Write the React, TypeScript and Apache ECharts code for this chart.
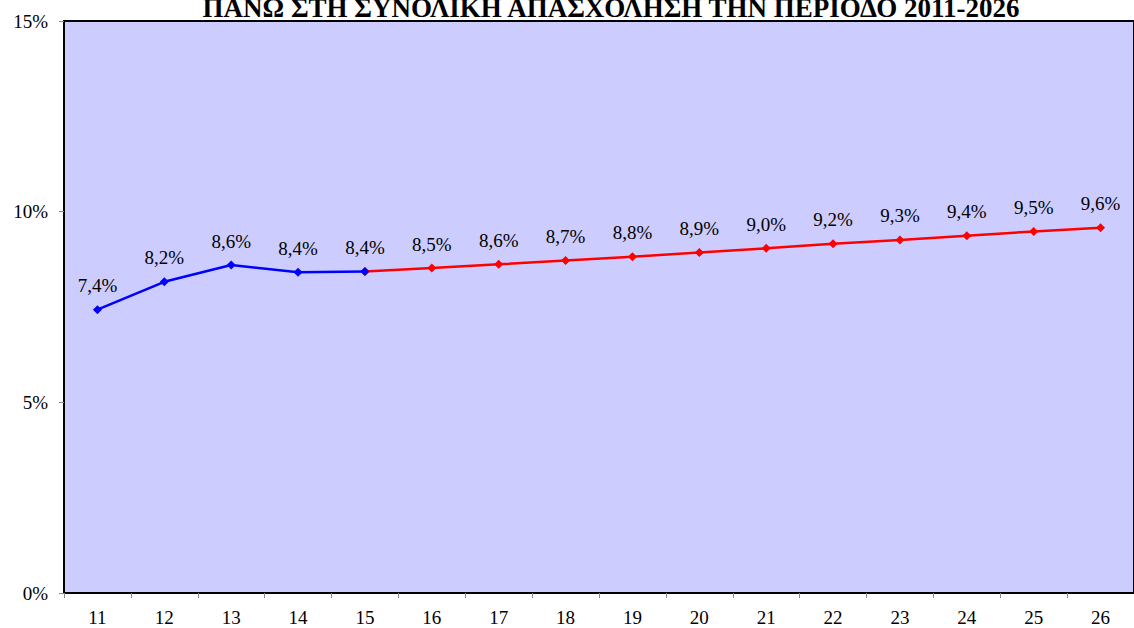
import React, { useEffect, useRef } from "react";
import * as echarts from "echarts";

const title = "ΠΑΝΩ ΣΤΗ ΣΥΝΟΛΙΚΗ ΑΠΑΣΧΟΛΗΣΗ ΤΗΝ ΠΕΡΙΟΔΟ 2011-2026";
const categories = ["11", "12", "13", "14", "15", "16", "17", "18", "19", "20", "21", "22", "23", "24", "25", "26"];
const actual = [7.43, 8.16, 8.6, 8.41, 8.43, null, null, null, null, null, null, null, null, null, null, null];
const forecast = [null, null, null, null, 8.43, 8.52, 8.62, 8.72, 8.82, 8.93, 9.04, 9.16, 9.26, 9.37, 9.48, 9.58];
const yTicks = [0, 5, 10, 15];

const FONT = "'Liberation Serif', 'Times New Roman', serif";

export default function App() {
  const ref = useRef<HTMLDivElement>(null);
  useEffect(() => {
    document.body.style.overflow = "hidden";
    const chart = echarts.init(ref.current!, null, { renderer: "svg" });
    const fmt = (p: any) => (p.value == null ? "" : p.value.toFixed(1).replace(".", ",") + "%");
    chart.setOption({
      animation: false,
      graphic: [
        {
          type: "text",
          x: 611,
          y: -6,
          style: {
            text: title,
            fontFamily: FONT,
            fontWeight: "bold",
            fontSize: 27,
            fill: "#000",
            align: "center",
            verticalAlign: "top",
          },
        },
      ],
      grid: {
        left: 64,
        right: -3,
        top: 21,
        bottom: 35,
        show: true,
        backgroundColor: "#CCCCFF",
        borderColor: "#000",
        borderWidth: 2,
      },
      xAxis: {
        type: "category",
        data: categories,
        boundaryGap: true,
        axisLine: { lineStyle: { color: "#000", width: 2 } },
        axisTick: { show: true, length: 5, lineStyle: { color: "#888" }, interval: 0 },
        axisLabel: { color: "#000", fontFamily: FONT, fontSize: 19, margin: 15, interval: 0 },
      },
      yAxis: {
        type: "value",
        min: 0,
        max: 15,
        interval: 5,
        splitLine: { show: false },
        axisLine: { show: true, lineStyle: { color: "#000", width: 2 } },
        axisTick: { show: true, length: 5, lineStyle: { color: "#888" } },
        axisLabel: {
          color: "#000",
          fontFamily: FONT,
          fontSize: 19,
          margin: 16,
          formatter: (v: number) => (yTicks.includes(v) ? v + "%" : ""),
        },
      },
      series: [
        {
          type: "line",
          data: forecast.map((v, i) =>
            i === 4 ? { value: v, label: { show: false } } : v
          ),
          color: "#FF0000",
          lineStyle: { width: 2.5, color: "#FF0000" },
          symbol: "diamond",
          symbolSize: 9,
          showAllSymbol: true,
          label: { show: true, position: "top", distance: 10, formatter: fmt, color: "#000", fontFamily: FONT, fontSize: 19 },
          z: 2,
        },
        {
          type: "line",
          data: actual,
          color: "#0000FF",
          lineStyle: { width: 2.5, color: "#0000FF" },
          symbol: "diamond",
          symbolSize: 9,
          showAllSymbol: true,
          label: { show: true, position: "top", distance: 10, formatter: fmt, color: "#000", fontFamily: FONT, fontSize: 19 },
          z: 3,
        },
      ],
    });
    return () => chart.dispose();
  }, []);
  return (
    <div
      ref={ref}
      style={{ position: "absolute", left: 0, top: 0, width: 1134, height: 628 }}
    />
  );
}
